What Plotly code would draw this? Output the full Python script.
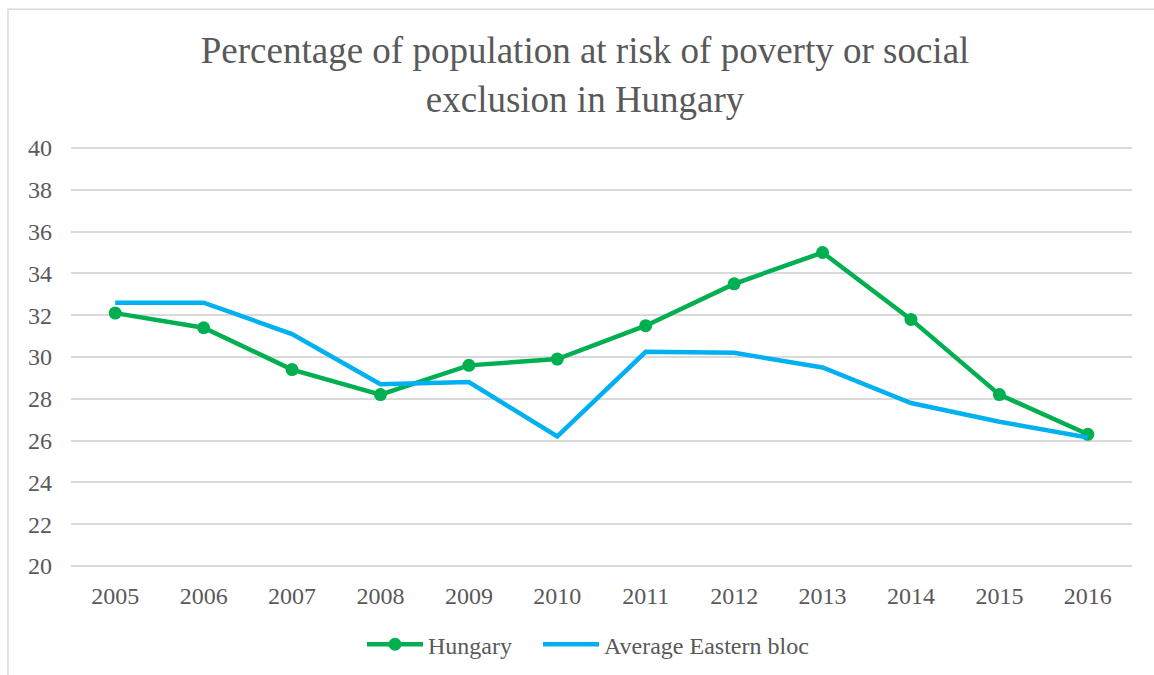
import plotly.graph_objects as go

years = ["2005", "2006", "2007", "2008", "2009", "2010", "2011", "2012", "2013", "2014", "2015", "2016"]
hungary = [32.1, 31.4, 29.4, 28.2, 29.6, 29.9, 31.5, 33.5, 35.0, 31.8, 28.2, 26.3]
eastern_bloc = [32.6, 32.6, 31.1, 28.7, 28.8, 26.2, 30.25, 30.2, 29.5, 27.8, 26.9, 26.15]
y_ticks = [20, 22, 24, 26, 28, 30, 32, 34, 36, 38, 40]

FONT = "Liberation Serif, Times New Roman, serif"
GREY = "#595959"

fig = go.Figure()
fig.add_trace(go.Scatter(
    x=years, y=hungary, name="Hungary", mode="lines+markers",
    line=dict(color="#00B050", width=4.5),
    marker=dict(color="#00B050", size=13),
    legend="legend",
))
fig.add_trace(go.Scatter(
    x=years, y=eastern_bloc, name="Average Eastern bloc", mode="lines",
    line=dict(color="#00B0F0", width=4.5),
    legend="legend2",
))

leg_common = dict(
    orientation="h", xref="container", xanchor="left",
    y=0.045, yref="container", yanchor="middle",
    font=dict(family=FONT, size=24, color=GREY),
    itemwidth=56, bgcolor="rgba(0,0,0,0)",
)

fig.update_layout(
    width=1154, height=675,
    margin=dict(l=71, r=22, t=147, b=108),
    paper_bgcolor="white", plot_bgcolor="white",
    font=dict(family=FONT, color=GREY, size=24),
    title=dict(
        text="Percentage of population at risk of poverty or social<br>exclusion in Hungary",
        x=0.507, xref="container", xanchor="center",
        y=0.906, yref="container", yanchor="top",
        font=dict(family=FONT, size=37, color=GREY),
    ),
    showlegend=True,
    legend=dict(x=(372 - 10) / 1154, **leg_common),
    legend2=dict(x=(548 - 10) / 1154, **leg_common),
    xaxis=dict(
        type="category", range=[-0.5, 11.5],
        showgrid=False, showline=False, zeroline=False,
        ticks="", ticklabelstandoff=12,
        tickfont=dict(family=FONT, size=24, color=GREY),
    ),
    yaxis=dict(
        range=[19.95, 40.05], tickvals=y_ticks, ticktext=[str(v) for v in y_ticks],
        showgrid=True, gridcolor="#d9d9d9", gridwidth=1.5,
        zeroline=False, showline=False, ticks="", ticklabelstandoff=18,
        tickfont=dict(family=FONT, size=24, color=GREY),
    ),
    shapes=[dict(
        type="rect", xref="paper", yref="paper",
        x0=-0.0594, x1=1.2, y0=-0.6, y1=1.328,
        line=dict(color="#d9d9d9", width=1.5), fillcolor="rgba(0,0,0,0)",
        layer="below",
    )],
)

fig.write_html("out.html")
